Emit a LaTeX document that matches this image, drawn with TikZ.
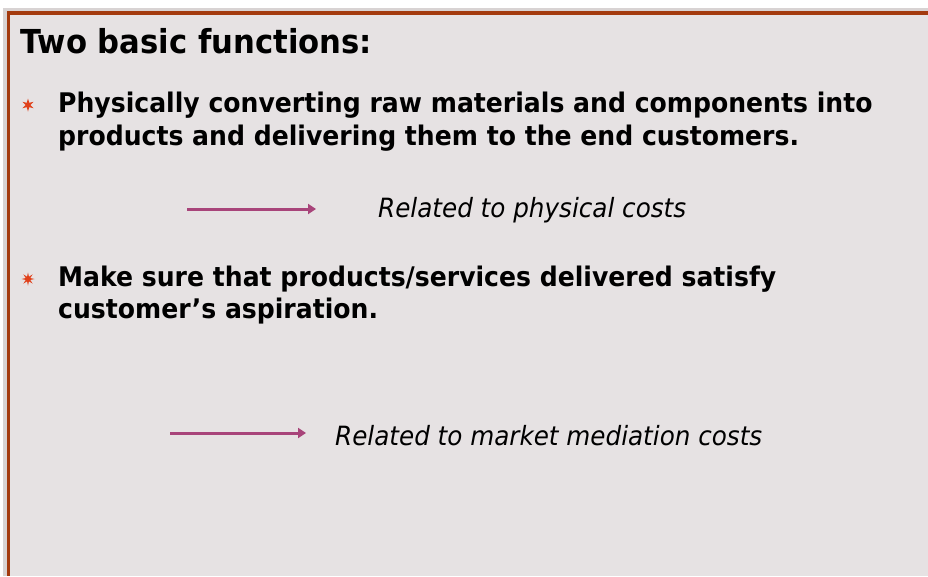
\documentclass[tikz,border=0pt]{standalone}
\usepackage{fontspec}
\setmainfont{DejaVu Sans}[FakeStretch=0.93]
\usetikzlibrary{shapes.geometric,arrows.meta}
\definecolor{bg}{HTML}{E6E2E3}
\definecolor{edge}{HTML}{D8D3D3}
\definecolor{brown}{HTML}{A33A0E}
\definecolor{bul}{HTML}{E0401A}
\definecolor{arr}{HTML}{A8447A}
\tikzset{
  bodytext/.style={anchor=base west, inner sep=0pt, font=\fontsize{27}{33}\selectfont\bfseries},
  noteText/.style={anchor=base west, inner sep=0pt, font=\fontsize{26.5}{33}\selectfont\itshape},
  bulletstar/.style={star, star point ratio=2.6, fill=bul, inner sep=0pt, minimum size=13pt},
  relarrow/.style={draw=arr, line width=3pt, -{Triangle[length=8pt,width=10pt]}}
}
\begin{document}
\begin{tikzpicture}[x=1pt,y=-1pt]
\useasboundingbox (0,0) rectangle (928,576);
\fill[white] (0,0) rectangle (928,576);
\fill[edge] (3,8) rectangle (928,576);
\fill[bg] (10,15) rectangle (928,576);
\fill[brown] (7,11) rectangle (928,15);
\fill[brown] (7,11) rectangle (10,576);

\node[anchor=base west, inner sep=0pt, font=\fontsize{33}{38}\selectfont\bfseries] (title) at (20,53) {Two basic functions:};

\node[bulletstar, star points=6] (b1) at (28,105) {};
\node[bodytext] (t1a) at (58,112) {Physically converting raw materials and components into};
\node[bodytext] (t1b) at (58,145) {products and delivering them to the end customers.};

\coordinate (a1s) at (187,209);
\coordinate (a1e) at (316,209);
\draw[relarrow] (a1s) -- (a1e);
\node[noteText] (n1) at (378,217) {Related to physical costs};

\node[bulletstar, star points=8] (b2) at (28,279) {};
\node[bodytext] (t2a) at (58,286) {Make sure that products/services delivered satisfy};
\node[bodytext] (t2b) at (58,318) {customer’s aspiration.};

\coordinate (a2s) at (170,433);
\coordinate (a2e) at (306,433);
\draw[relarrow] (a2s) -- (a2e);
\node[noteText] (n2) at (335,445) {Related to market mediation costs};
\end{tikzpicture}
\end{document}
